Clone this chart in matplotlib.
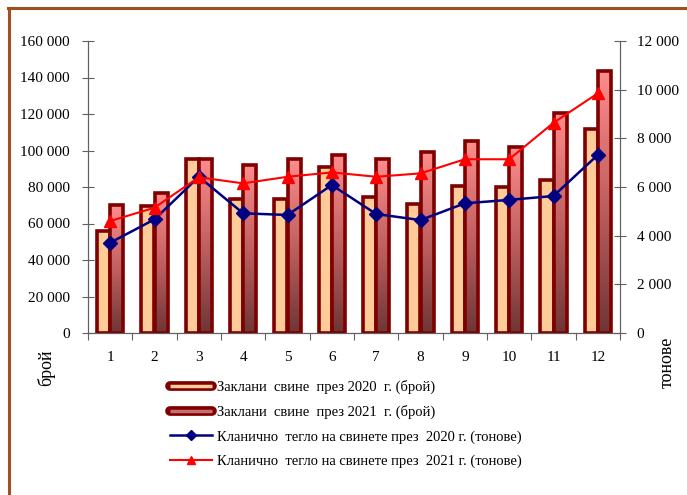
import matplotlib
matplotlib.use("Agg")
import matplotlib.pyplot as plt
import numpy as np
from matplotlib.ticker import FuncFormatter, FixedLocator
from matplotlib.colors import LinearSegmentedColormap
from matplotlib.lines import Line2D
from matplotlib.legend_handler import HandlerTuple

months = ["1", "2", "3", "4", "5", "6", "7", "8", "9", "10", "11", "12"]
pigs_2020 = [56000, 69600, 95200, 73200, 73200, 91100, 74300, 70500, 80500, 79800, 83800, 111600]
pigs_2021 = [70100, 76500, 95500, 92000, 95300, 97500, 95200, 99000, 105000, 101700, 120700, 143700]
weight_2020 = [3710, 4670, 6420, 4920, 4850, 6080, 4890, 4640, 5330, 5470, 5630, 7320]
weight_2021 = [4600, 5150, 6400, 6150, 6420, 6600, 6420, 6560, 7140, 7140, 8640, 9850]

left_ticks = [0, 20000, 40000, 60000, 80000, 100000, 120000, 140000, 160000]
right_ticks = [0, 2000, 4000, 6000, 8000, 10000, 12000]

labels = ["Заклани  свине  през 2020  г. (брой)",
          "Заклани  свине  през 2021  г. (брой)",
          "Кланично  тегло на свинете през  2020 г. (тонове)",
          "Кланично  тегло на свинете през  2021 г. (тонове)"]

plt.rcParams['font.family'] = ['Liberation Serif', 'DejaVu Serif']

fig = plt.figure(figsize=(6.87, 4.95), dpi=100)
ax = fig.add_axes([88/687, 1-333/495, (620-88)/687, (333-41)/495])

x = np.arange(1, len(months)+1)
w = 0.3
edge = '#7f0000'
b1 = ax.bar(x - w/2, pigs_2020, w, facecolor='#ffcc99', edgecolor=edge, linewidth=2.6, zorder=2)
b2 = ax.bar(x + w/2, pigs_2021, w, facecolor='none', edgecolor=edge, linewidth=2.6, zorder=3)

cmap = LinearSegmentedColormap.from_list('g', ['#6e3535', '#c06060', '#ff8c8c'])
grad = np.linspace(0, 1, 256).reshape(-1, 1)
for r in b2:
    x0, y0 = r.get_x(), r.get_y()
    ww, hh = r.get_width(), r.get_height()
    im = ax.imshow(grad, extent=[x0, x0+ww, y0, y0+hh], aspect='auto', cmap=cmap,
                   origin='lower', zorder=2.5, interpolation='bilinear')
    im.set_clip_path(r)

ax.set_xlim(0.5, 12.5)
ax.set_ylim(0, 160000)
ax.set_aspect('auto')

fmt = FuncFormatter(lambda v, p: f"{int(v):,}".replace(",", " "))
ax.yaxis.set_major_locator(FixedLocator(left_ticks))
ax.yaxis.set_major_formatter(fmt)
ax.xaxis.set_major_locator(FixedLocator(np.arange(0.5, 13, 1)))
ax.xaxis.set_major_formatter(FuncFormatter(lambda v, p: ""))
ax.xaxis.set_minor_locator(FixedLocator(x))
ax.set_xticklabels(months, minor=True)

spc = '#606060'
ax.spines['top'].set_visible(False)
for s in ['left', 'bottom', 'right']:
    ax.spines[s].set_color(spc)
ax.tick_params(axis='y', direction='inout', length=8, color=spc, labelsize=11, pad=9)
ax.tick_params(axis='x', which='major', direction='out', length=5, color=spc)
ax.tick_params(axis='x', which='minor', length=0, labelsize=11, pad=13)

ax2 = ax.twinx()
ax2.set_ylim(0, 12000)
ax2.yaxis.set_major_locator(FixedLocator(right_ticks))
ax2.yaxis.set_major_formatter(fmt)
ax2.spines['top'].set_visible(False)
for s in ['left', 'bottom', 'right']:
    ax2.spines[s].set_color(spc)
ax2.tick_params(axis='y', direction='inout', length=8, color=spc, labelsize=11, pad=8)

l1, = ax2.plot(x, weight_2020, color='#000080', linewidth=1.8, marker='D', markersize=7, zorder=5)
l2, = ax2.plot(x, weight_2021, color='#ff0000', linewidth=1.5, marker='^', markersize=8, zorder=6)

fig.text(46/687, 1-368/495, "брой", rotation=90, ha='center', va='center', fontsize=13)
fig.text(667/687, 1-362/495, "тонове", rotation=90, ha='center', va='center', fontsize=13)

h1 = (Line2D([], [], color=edge, lw=7, solid_capstyle='round'),
      Line2D([], [], color='#ffcc99', lw=2.5, solid_capstyle='butt'))
h2 = (Line2D([], [], color=edge, lw=7, solid_capstyle='round'),
      Line2D([], [], color='#c87070', lw=2.5, solid_capstyle='butt'))
leg = fig.legend([h1, h2, l1, l2], labels, handler_map={tuple: HandlerTuple(ndivide=1, pad=0)},
                 loc='upper left', bbox_to_anchor=(170/687, 1-380/495), frameon=False,
                 fontsize=10.5, handlelength=2.9, handletextpad=0.35, labelspacing=0.75,
                 borderaxespad=0, borderpad=0, markerscale=0.8)

brown = '#a0501e'
fig.add_artist(Line2D([8.5/687, 8.5/687], [0, 1-8/495], color=brown, lw=2.2, transform=fig.transFigure))
fig.add_artist(Line2D([8/687, 1], [1-8/495, 1-8/495], color=brown, lw=2.2, transform=fig.transFigure))

fig.savefig("out.png", dpi=100)
